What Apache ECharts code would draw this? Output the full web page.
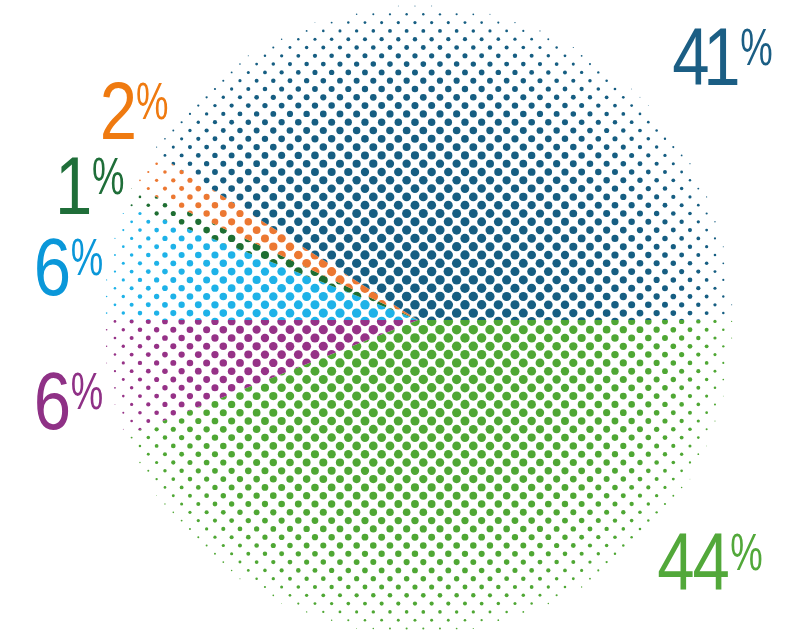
<!DOCTYPE html>
<html>
<head>
<meta charset="utf-8">
<script src="https://cdn.jsdelivr.net/npm/echarts@6/dist/echarts.min.js"></script>
<style>
  html, body { margin: 0; padding: 0; background: #ffffff; }
  #chart { width: 785px; height: 634px; }
</style>
</head>
<body>
<div id="chart"></div>
<script>
// Slices, clockwise from 3 o'clock
const categories = ['Green', 'Purple', 'Light blue', 'Dark green', 'Orange', 'Blue'];
const values = [44, 6, 6, 1, 2, 41];
const dotColors = ['#4fa734', '#963287', '#1eb2e8', '#1e6e32', '#ec7832', '#165e82'];
const labelColors = ['#52a83a', '#8f3186', '#0a97d9', '#1f6e39', '#ef7a10', '#1b5e84'];
// ink top-left corner of each percentage label
const labelSpots = [[658, 533], [37, 372], [37, 238], [60, 157], [103, 82], [673, 28]];

const W = 785, H = 634;
const CX = 418, CY = 320;      // pie centre
const PIE_R = 318;             // sector radius
const DOT_R = 316;             // radius where the halftone dots vanish
const RMAX = 4.8;              // dot radius at the centre
const STEP_X = 16.667, STEP_Y = 8.3, X0 = 398.3, Y0 = 6;

// Halftone texture: staggered dots that shrink towards the rim
function halftone(color) {
  const c = document.createElement('canvas');
  c.width = W; c.height = H;
  const g = c.getContext('2d');
  g.fillStyle = color;
  for (let j = 0; Y0 + j * STEP_Y < H + 10; j++) {
    const y = Y0 + j * STEP_Y;
    const off = (j % 2 === 1) ? STEP_X / 2 : 0;
    let x = X0 - off;
    while (x > -STEP_X) x -= STEP_X;
    for (; x < W + STEP_X; x += STEP_X) {
      const d = Math.hypot(x - CX, y - CY);
      if (d >= DOT_R) continue;
      const r = RMAX * Math.sqrt(1 - (d / DOT_R) * (d / DOT_R));
      if (r < 0.35) continue;
      g.beginPath();
      g.arc(x, y, r, 0, Math.PI * 2);
      g.fill();
    }
  }
  return c;
}

// Percentage labels: a condensed look from a horizontally squeezed sans,
// glyphs set one by one with tight spacing
const FONT_FAMILY = 'Liberation Sans';
const NUM_SIZE = 81, PCT_SIZE = 51;
const DIGIT_GAP = 0.5, PCT_GAP = 3;   // screen pixels between glyph inks
const measureCtx = document.createElement('canvas').getContext('2d');
function ink(text, size) {
  measureCtx.font = size + 'px "' + FONT_FAMILY + '"';
  measureCtx.textBaseline = 'middle';
  const m = measureCtx.measureText(text);
  return {
    asc: m.actualBoundingBoxAscent,
    desc: m.actualBoundingBoxDescent,
    left: m.actualBoundingBoxLeft,
    width: m.actualBoundingBoxLeft + m.actualBoundingBoxRight
  };
}
const digitInk = ink('0123456789', NUM_SIZE);
const four = ink('4', NUM_SIZE);
const SQUEEZE = 0.61 * (four.asc + four.desc) / four.width;
const refPct = ink('%', PCT_SIZE);
const PCT_SQUEEZE = 0.81 * (refPct.asc + refPct.desc) / (refPct.width * SQUEEZE);

function percentLabel(value, i) {
  const style = { fill: labelColors[i], fontFamily: FONT_FAMILY, align: 'left', verticalAlign: 'middle' };
  const children = [];
  let cursor = 0;
  String(value).split('').forEach(ch => {
    const m = ink(ch, NUM_SIZE);
    children.push({ type: 'text', x: cursor + m.left, y: digitInk.asc,
      style: Object.assign({ text: ch, fontSize: NUM_SIZE }, style) });
    cursor += m.width + DIGIT_GAP / SQUEEZE;
  });
  cursor += (PCT_GAP - DIGIT_GAP) / SQUEEZE;
  const b = ink('%', PCT_SIZE);
  children.push({ type: 'text', x: cursor + b.left * PCT_SQUEEZE, y: b.asc, scaleX: PCT_SQUEEZE,
    style: Object.assign({ text: '%', fontSize: PCT_SIZE }, style) });
  return {
    type: 'group',
    x: labelSpots[i][0],
    y: labelSpots[i][1],
    scaleX: SQUEEZE,
    silent: true,
    children: children
  };
}

const chart = echarts.init(document.getElementById('chart'), null, { renderer: 'canvas' });
chart.setOption({
  animation: false,
  backgroundColor: '#ffffff',
  series: [{
    type: 'pie',
    center: [CX, CY],
    radius: PIE_R,
    startAngle: 0,
    clockwise: true,
    silent: true,
    emphasis: { disabled: true, scale: false },
    itemStyle: { borderWidth: 0 },
    label: { show: false },
    labelLine: { show: false },
    data: values.map((v, i) => ({
      name: categories[i],
      value: v,
      itemStyle: { color: { image: halftone(dotColors[i]), repeat: 'no-repeat' } }
    }))
  }],
  graphic: values.map(percentLabel)
});
</script>
</body>
</html>
